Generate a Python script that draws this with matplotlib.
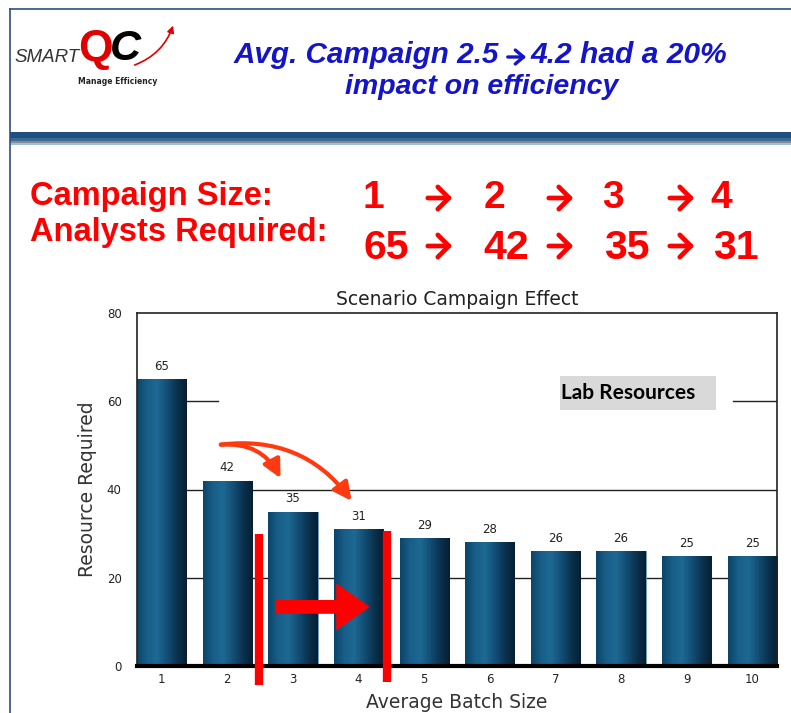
import numpy as np
import matplotlib
matplotlib.use("Agg")
import matplotlib.pyplot as plt
from matplotlib.patches import Rectangle, FancyArrowPatch
from matplotlib.colors import LinearSegmentedColormap

batch_size = [1, 2, 3, 4, 5, 6, 7, 8, 9, 10]
resources = [65, 42, 35, 31, 29, 28, 26, 26, 25, 25]

campaign_steps = ["1", "2", "3", "4"]
analyst_steps = ["65", "42", "35", "31"]

W, H = 791, 713
fig = plt.figure(figsize=(W / 100, H / 100), dpi=100)
fig.patch.set_facecolor("white")

def fx(px):
    return px / W

def fy(py):
    return 1 - py / H

# slide frame and header band
fig.add_artist(plt.Line2D([fx(10), fx(10)], [fy(9), 0], color="#2f4f7f", lw=1.2))
fig.add_artist(plt.Line2D([fx(10), 1], [fy(9), fy(9)], color="#2f4f7f", lw=1.2))
band = [("#1f4f80", 132, 138), ("#3a6a9c", 138, 141), ("#8a8a86", 141, 142.5),
        ("#b8c8d8", 142.5, 143.5), ("#9cc0e4", 143.5, 145)]
for c, y0, y1 in band:
    fig.add_artist(Rectangle((fx(10), fy(y1)), 1 - fx(10), fy(y0) - fy(y1),
                             transform=fig.transFigure, color=c, lw=0))

# logo
fig.text(fx(14), fy(58), "SMART", fontsize=13.5, style="italic", color="#333333",
         family="Liberation Sans", va="center")
fig.text(fx(78), fy(50), "Q", fontsize=32, weight="bold", color="#e00000",
         family="Liberation Sans", va="center")
fig.text(fx(110), fy(49), "C", fontsize=31, weight="bold", style="italic", color="black",
         family="Liberation Sans", va="center")
fig.add_artist(FancyArrowPatch((fx(132), fy(66)), (fx(174), fy(23)), transform=fig.transFigure,
                               connectionstyle="arc3,rad=0.25", arrowstyle="-|>",
                               mutation_scale=10, color="#e00000", lw=1.2))
fig.text(fx(118), fy(81), "Manage Efficiency", fontsize=5.5, weight="bold", color="#222222",
         ha="center", va="center")

# title
title_kw = dict(weight="bold", style="italic", color="#1414c8",
                family="Liberation Sans", va="center")
fig.text(fx(499), fy(55), "Avg. Campaign 2.5", ha="right", fontsize=21.3, **title_kw)
fig.add_artist(FancyArrowPatch((fx(505), fy(57)), (fx(529), fy(57)), transform=fig.transFigure,
                               arrowstyle="->,head_length=0.6,head_width=0.5",
                               mutation_scale=10, color="#1414c8", lw=2.4))
fig.text(fx(531), fy(55), "4.2 had a 20%", ha="left", fontsize=21.6, **title_kw)
fig.text(fx(482), fy(87), "impact on efficiency", ha="center", fontsize=20.5, **title_kw)

# red summary text
red_kw = dict(weight="bold", color="#ff0000", family="Liberation Sans", va="center")
fig.text(fx(30), fy(196), "Campaign Size:", fontsize=23.5, **red_kw)
fig.text(fx(30), fy(232), "Analysts Required:", fontsize=23.5, **red_kw)
top_x = [373, 494, 613, 721]
bot_x = [386, 506, 627, 736]
arr_x = [440, 561, 682]
for s, x in zip(campaign_steps, top_x):
    fig.text(fx(x), fy(198), s, fontsize=28, ha="center", **red_kw)
for s, x in zip(analyst_steps, bot_x):
    fig.text(fx(x), fy(248), s, fontsize=29.5, ha="center", **red_kw)
for x in arr_x:
    for yy in (198, 246):
        fig.add_artist(FancyArrowPatch((fx(x - 15), fy(yy)), (fx(x + 15), fy(yy)),
                                       transform=fig.transFigure,
                                       arrowstyle="->,head_length=0.8,head_width=0.8",
                                       mutation_scale=10, color="#ff0000", lw=3.4))

# chart
ax = fig.add_axes([fx(137), fy(666), fx(777) - fx(137), fy(313) - fy(666)])

for y in (20, 40):
    ax.axhline(y, color="#222222", lw=1, zorder=0)
ax.axhline(60, xmin=0, xmax=(218 - 137) / 640, color="#222222", lw=1, zorder=0)
ax.axhline(60, xmin=(733 - 137) / 640, xmax=1, color="#222222", lw=1, zorder=0)

bars = ax.bar(batch_size, resources, width=0.75, color="#14557f",
              edgecolor="#6f9fbf", lw=0.6, zorder=2)
cmap = LinearSegmentedColormap.from_list(
    "barg", ["#0b4468", "#185e88", "#1d6994", "#134f76", "#0a3350", "#061e30"])
grad = np.linspace(0, 1, 256).reshape(1, -1)
for b in bars:
    x0, y0 = b.get_x(), b.get_y()
    im = ax.imshow(grad, cmap=cmap, aspect="auto", zorder=2.5,
                   extent=[x0, x0 + b.get_width(), y0, y0 + b.get_height()])
    im.set_clip_path(b)
ax.set_xlim(0.625, 10.375)
ax.set_ylim(0, 80)

for xv, v in zip(batch_size, resources):
    ax.text(xv, v + 1.4, str(v), ha="center", va="bottom", fontsize=8.5, color="#222222",
            family="DejaVu Sans")

for s in ("left", "right", "top"):
    ax.spines[s].set_linewidth(1.2)
    ax.spines[s].set_color("#222222")
ax.spines["bottom"].set_linewidth(3)
ax.spines["bottom"].set_color("black")
ax.set_xticks(batch_size)
ax.set_yticks([0, 20, 40, 60, 80])
ax.tick_params(length=0, labelsize=8.5, colors="#222222")
ax.tick_params(axis="x", pad=5)
ax.tick_params(axis="y", pad=11)
ax.set_title("Scenario Campaign Effect", fontsize=13.5, color="#222222", pad=6)
ax.set_xlabel("Average Batch Size", fontsize=13.5, color="#333333", labelpad=5)
ax.set_ylabel("Resource Required", fontsize=13.5, color="#333333", labelpad=7)

# lab resources label
ax.add_patch(Rectangle((7.07, 58.0), 2.38, 7.7, facecolor="#d9d9d9", edgecolor="none", zorder=3))
ax.text(7.09, 61.9, "Lab Resources", fontsize=15, weight="bold", family="Lato",
        color="black", va="center", ha="left", zorder=4)

# annotations
orange = "#ff3a10"
ax.add_patch(FancyArrowPatch((1.86, 50.1), (2.83, 42.0), connectionstyle="arc3,rad=-0.35",
                             arrowstyle="-|>,head_width=0.3,head_length=0.6",
                             mutation_scale=18, color=orange, lw=3, zorder=5))
ax.add_patch(FancyArrowPatch((1.86, 50.1), (3.92, 36.9), connectionstyle="arc3,rad=-0.3",
                             arrowstyle="-|>,head_width=0.3,head_length=0.6",
                             mutation_scale=18, color=orange, lw=3, zorder=5))
ax.plot([2.484, 2.484], [29.9, -4.3], color="#ff0000", lw=6, clip_on=False, zorder=6,
        solid_capstyle="butt")
ax.plot([4.434, 4.434], [30.6, -3.6], color="#ff0000", lw=6, clip_on=False, zorder=6,
        solid_capstyle="butt")
ax.add_patch(FancyArrowPatch((2.69, 13.4), (4.21, 13.4),
                             arrowstyle="simple,head_width=3.4,head_length=2.4,tail_width=1.0",
                             mutation_scale=10, color="#ff0000", lw=0, zorder=6))

fig.savefig("out.png", dpi=100)
